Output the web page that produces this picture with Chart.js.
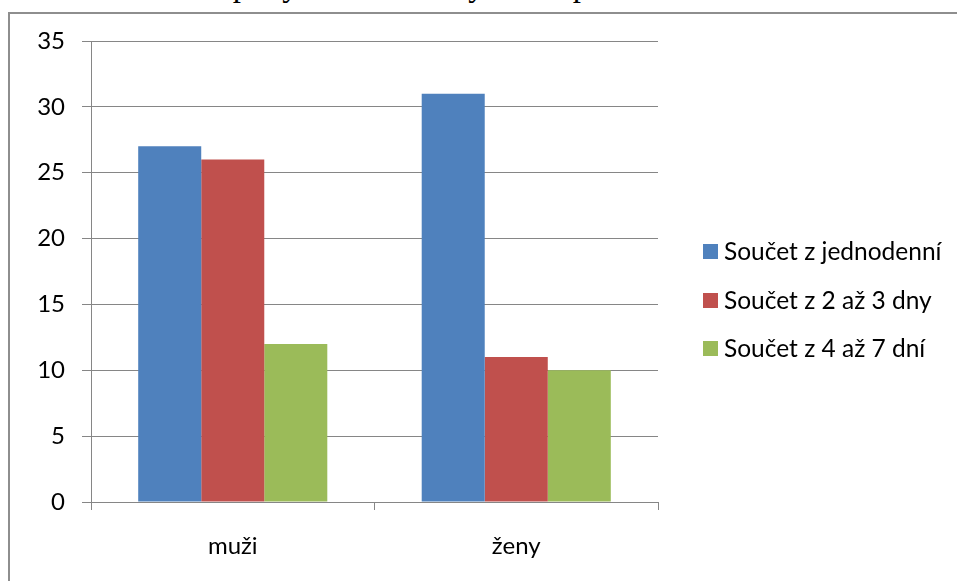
<!DOCTYPE html>
<html lang="cs">
<head>
<meta charset="utf-8">
<title>Délka pobytu dotazovaných dle pohlaví</title>
<script src="https://cdn.jsdelivr.net/npm/chart.js@4/dist/chart.umd.min.js"></script>
<style>
  html, body { margin: 0; padding: 0; background: #fff; overflow: hidden; }
  #page { position: relative; width: 957px; height: 581px; overflow: hidden; background: #fff; }
  #caption {
    position: absolute; left: 12px; top: -31px; white-space: nowrap;
    font-family: "Liberation Serif", "Times New Roman", serif; font-size: 33px; line-height: 33px; color: #000;
  }
  #frame {
    position: absolute; left: 8px; top: 12px; width: 949px; height: 569px;
    border-top: 2px solid #8e8e8e; border-left: 2px solid #8e8e8e;
    box-sizing: border-box;
  }
  #chart { position: absolute; left: 0; top: 0; }
  .key-box { position: absolute; width: 15px; height: 15px; }
  .key-text {
    position: absolute; white-space: nowrap; color: #000;
    font-family: Lato, "Open Sans", sans-serif; font-size: 24.5px; line-height: 24px;
  }
</style>
</head>
<body>
<div id="page">
  <div id="caption">Graf č. 3: Délka pobytu dotazovaných dle pohlaví</div>
  <div id="frame"></div>
  <canvas id="chart" width="957" height="581"></canvas>
  <div id="legend"></div>
</div>
<script>
// Categories and series (počet respondentů)
const categories = ['muži', 'ženy'];
const seriesNames = ['Součet z jednodenní', 'Součet z 2 až 3 dny', 'Součet z 4 až 7 dní'];
const jednodenni = [27, 31];
const dvaAzTriDny = [26, 11];
const ctyriAzSedmDni = [12, 10];
const yMin = 0;
const yMax = 35;
const yStep = 5;

const seriesValues = [jednodenni, dvaAzTriDny, ctyriAzSedmDni];
const seriesColors = ['#4F81BD', '#C0504D', '#9BBB59'];

const axisGray = '#868686';
const labelFont = { family: 'Lato, "Open Sans", sans-serif', size: 24 };

const datasets = seriesNames.map((name, i) => ({
  label: name,
  data: seriesValues[i],
  backgroundColor: seriesColors[i],
  borderWidth: 0,
  barPercentage: 1,
  categoryPercentage: 0.667
}));

new Chart(document.getElementById('chart'), {
  type: 'bar',
  data: { labels: categories, datasets },
  options: {
    responsive: false,
    animation: false,
    devicePixelRatio: 1,
    layout: { padding: { left: 0, right: 299, top: 41, bottom: 0 } },
    plugins: {
      legend: { display: false },
      tooltip: { enabled: false },
      title: { display: false }
    },
    scales: {
      x: {
        grid: {
          offset: true,
          drawOnChartArea: false,
          drawTicks: true,
          tickLength: 8,
          color: axisGray,
          lineWidth: 1
        },
        border: { color: axisGray, width: 1 },
        ticks: { color: '#000', font: labelFont, padding: 22, maxRotation: 0 },
        afterFit(scale) { scale.height = 79; }
      },
      y: {
        min: yMin,
        max: yMax,
        ticks: { stepSize: yStep, color: '#000', font: labelFont, padding: 17 },
        grid: { color: axisGray, lineWidth: 1, drawTicks: true, tickLength: 9 },
        border: { color: axisGray, width: 1 },
        afterFit(scale) { scale.width = 91; }
      }
    }
  }
});

// Legend on the right of the plot
const legend = document.getElementById('legend');
seriesNames.forEach((name, i) => {
  const box = document.createElement('div');
  box.className = 'key-box';
  box.style.left = '703px';
  box.style.top = (244 + i * 48.5) + 'px';
  box.style.background = seriesColors[i];
  const text = document.createElement('div');
  text.className = 'key-text';
  text.style.left = '724px';
  text.style.top = (239 + i * 48.5) + 'px';
  text.textContent = name;
  legend.appendChild(box);
  legend.appendChild(text);
});
</script>
</body>
</html>
